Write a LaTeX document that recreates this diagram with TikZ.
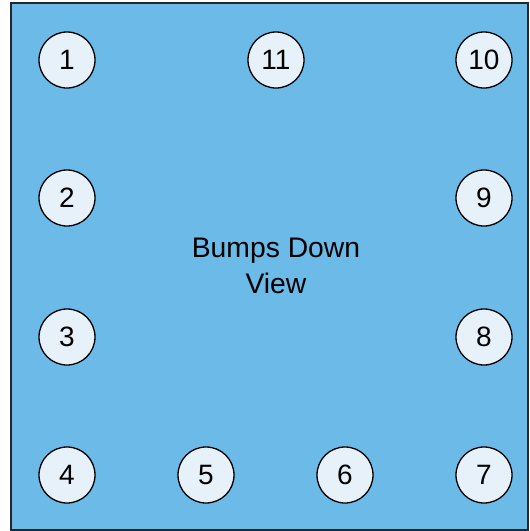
\documentclass[tikz,border=0pt]{standalone}
\usepackage{fontspec}
\setmainfont{Liberation Sans}
\definecolor{boardblue}{HTML}{6BBAE8}
\definecolor{bumpfill}{HTML}{E6F1FA}
\tikzset{
  bump/.style={circle, draw=black, line width=1.3pt, fill=bumpfill, minimum size=56pt, inner sep=0pt, font=\fontsize{28}{32}\selectfont},
  board/.style={draw=black!85, line width=1.5pt, fill=boardblue}
}
\begin{document}
\begin{tikzpicture}[x=1pt,y=-1pt]
\useasboundingbox (0,0) rectangle (530,531);
\draw[board] (11,3) rectangle (528,530);
\node[bump] (b1) at (67,60) {1};
\node[bump] (b11) at (276,60) {11};
\node[bump] (b10) at (484,60) {10};
\node[bump] (b2) at (67,198) {2};
\node[bump] (b9) at (484,198) {9};
\node[bump] (b3) at (67,337) {3};
\node[bump] (b8) at (484,337) {8};
\node[bump] (b4) at (67,475) {4};
\node[bump] (b5) at (206,475) {5};
\node[bump] (b6) at (345,475) {6};
\node[bump] (b7) at (484,475) {7};
\node[align=center, font=\fontsize{28.3}{36}\selectfont] (title) at (276,266) {Bumps Down\\View};
\end{tikzpicture}
\end{document}
